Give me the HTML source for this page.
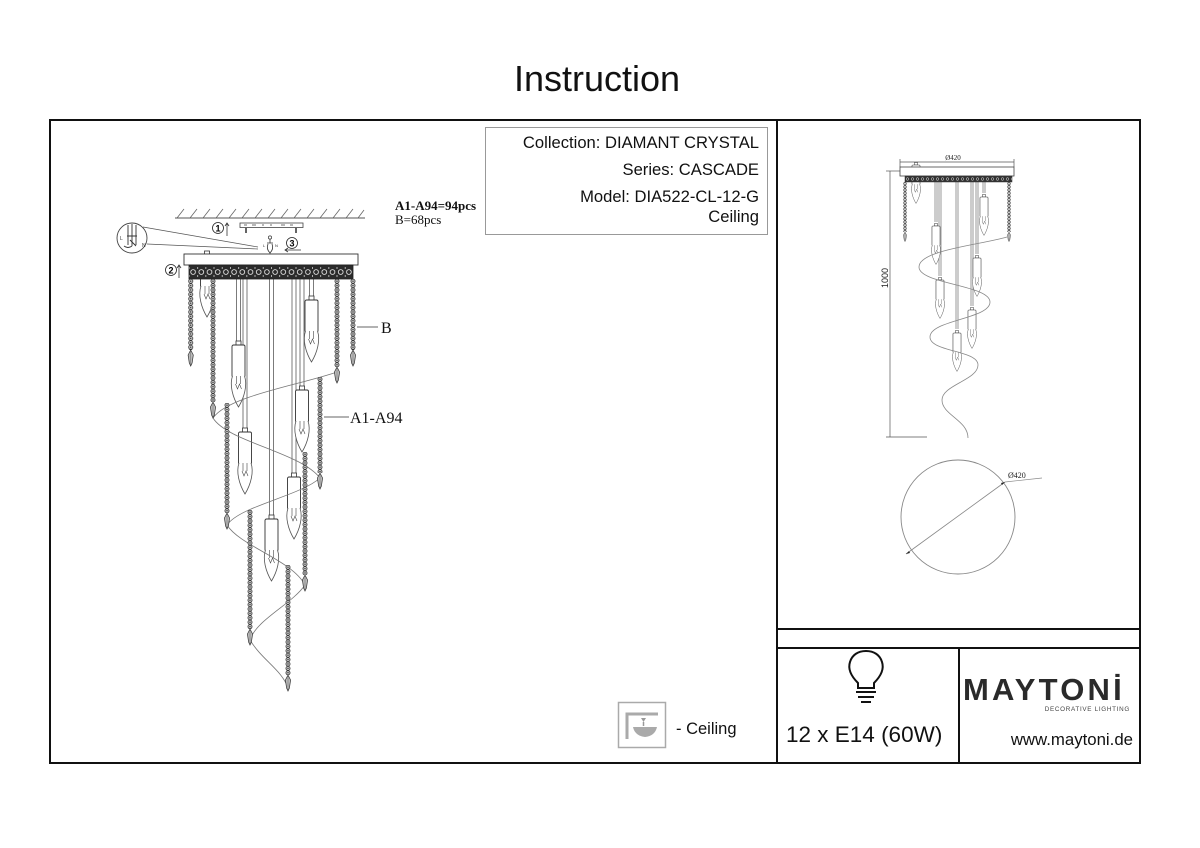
<!DOCTYPE html>
<html><head><meta charset="utf-8"><style>
html,body{margin:0;padding:0;background:#fff;}
svg{display:block;}
text{font-family:"Liberation Sans",Arial,sans-serif;}
.serif{font-family:"Liberation Serif","Times New Roman",serif;}
</style></head><body>
<svg width="1200" height="848" viewBox="0 0 1200 848" xmlns="http://www.w3.org/2000/svg">
<defs>
  <pattern id="bd" patternUnits="userSpaceOnUse" x="-3" y="0" width="6" height="4.4">
    <circle cx="3" cy="2.2" r="2.05" fill="#d4d4d4" stroke="#222" stroke-width="0.75"/>
    <circle cx="3" cy="2.2" r="0.7" fill="#222"/>
  </pattern>
  <pattern id="bds" patternUnits="userSpaceOnUse" x="-2" y="0" width="4" height="3.2">
    <circle cx="2" cy="1.6" r="1.35" fill="#d4d4d4" stroke="#333" stroke-width="0.6"/>
  </pattern>
  <pattern id="orn" patternUnits="userSpaceOnUse" x="189" y="265" width="8.2" height="14">
    <rect width="8.2" height="14" fill="#2b2b2b"/>
    <circle cx="4.1" cy="7" r="2.4" fill="none" stroke="#eee" stroke-width="0.8"/>
    <circle cx="0" cy="3" r="1" fill="#ddd"/>
    <circle cx="0" cy="11" r="1" fill="#ddd"/>
  </pattern>
  <pattern id="orns" patternUnits="userSpaceOnUse" x="905" y="176" width="5" height="6">
    <rect width="5" height="6" fill="#333"/>
    <circle cx="2.5" cy="3" r="1.3" fill="none" stroke="#ddd" stroke-width="0.5"/>
  </pattern>
  <g id="drop">
    <path d="M0,0 L2.6,5 L1.4,13 L0,16 L-1.4,13 L-2.6,5 Z" fill="#bbb" stroke="#333" stroke-width="0.7"/>
    <line x1="0" y1="1" x2="0" y2="15" stroke="#555" stroke-width="0.4"/>
  </g>
  <g id="lamp">
    <rect x="-2.5" y="-4" width="5" height="4" fill="#fff" stroke="#333" stroke-width="0.8"/>
    <rect x="-6.5" y="0" width="13" height="32" rx="1.5" fill="#fff" stroke="#333" stroke-width="0.9"/>
    <path d="M-6,31 C-9,40 -6,52 0,62 C6,52 9,40 6,31" fill="#fff" stroke="#555" stroke-width="0.8"/>
    <path d="M-2,31 L-2,39 M2,31 L2,39 M-3,39 L-1,44 L1,39 L3,44" stroke="#444" stroke-width="0.6" fill="none"/>
  </g>
</defs>

<!-- Title -->
<text x="597" y="91" font-size="36" text-anchor="middle" fill="#111">Instruction</text>

<!-- Frame -->
<rect x="50" y="120" width="1090" height="643" fill="none" stroke="#111" stroke-width="2"/>
<line x1="777" y1="120" x2="777" y2="763" stroke="#111" stroke-width="2"/>
<line x1="777" y1="629" x2="1140" y2="629" stroke="#111" stroke-width="2"/>
<line x1="777" y1="648" x2="1140" y2="648" stroke="#111" stroke-width="2"/>
<line x1="959" y1="648" x2="959" y2="764" stroke="#111" stroke-width="2"/>

<!-- Info box -->
<rect x="485.5" y="127.5" width="282" height="107" fill="none" stroke="#999" stroke-width="1"/>
<g font-size="16.6" text-anchor="end" fill="#111">
  <text x="759" y="148">Collection: DIAMANT CRYSTAL</text>
  <text x="759" y="175">Series: CASCADE</text>
  <text x="759" y="202">Model: DIA522-CL-12-G</text>
  <text x="759" y="222">Ceiling</text>
</g>

<!-- ===== Left main drawing ===== -->
<line x1="175" y1="218" x2="365" y2="218" stroke="#555" stroke-width="0.9"/>
<path d="M177,218 l7,-9 M190,218 l7,-9 M203,218 l7,-9 M216,218 l7,-9 M229,218 l7,-9 M242,218 l7,-9 M255,218 l7,-9 M268,218 l7,-9 M281,218 l7,-9 M294,218 l7,-9 M307,218 l7,-9 M320,218 l7,-9 M333,218 l7,-9 M346,218 l7,-9 M358,218 l6,-8" stroke="#666" stroke-width="0.8"/>
<rect x="240" y="223" width="63" height="4.5" fill="#fff" stroke="#444" stroke-width="0.8"/>
<path d="M244,225 h3 M252,225 h4 M262,225 h2 M270,225 h2 M281,225 h4 M290,225 h3" stroke="#444" stroke-width="0.8"/>
<path d="M246,228 v5 M296,228 v5" stroke="#222" stroke-width="1.4"/>
<circle cx="218" cy="228" r="5.5" fill="#fff" stroke="#222" stroke-width="0.8"/>
<text x="218" y="231.5" font-size="9" font-weight="bold" text-anchor="middle">1</text>
<path d="M227,236 V223 M225,226 l2,-3 l2,3" stroke="#333" stroke-width="0.8" fill="none"/>
<circle cx="292" cy="243" r="5.5" fill="#fff" stroke="#222" stroke-width="0.8"/>
<text x="292" y="246.5" font-size="9" font-weight="bold" text-anchor="middle">3</text>
<path d="M301,250 H285 M288,248 l-3,2 l3,2" stroke="#333" stroke-width="0.8" fill="none"/>
<circle cx="270" cy="237.5" r="1.6" fill="none" stroke="#333" stroke-width="0.7"/>
<path d="M270,239 v4 M267,243 h6 M268,244 q-2,5 2,9 q4,-4 2,-9 M270,253 v1.5" stroke="#333" stroke-width="0.8" fill="none"/>
<text x="263" y="247" font-size="4" fill="#333">L</text>
<text x="275" y="247" font-size="4" fill="#333">N</text>
<circle cx="132" cy="238" r="15" fill="#fff" stroke="#444" stroke-width="0.9"/>
<path d="M143,227 L258,247 M147,244 L258,249" stroke="#555" stroke-width="0.7" fill="none"/>
<path d="M128,225 v20 M132,224 v22 M136,225 v20 M127,236 h10 M130,240 l6,6 M124,246 q4,3 8,0" stroke="#333" stroke-width="0.9" fill="none"/>
<text x="120" y="240" font-size="5" fill="#333">L</text>
<text x="142" y="247" font-size="5" fill="#333">N</text>
<circle cx="171" cy="270" r="5.5" fill="#fff" stroke="#222" stroke-width="0.8"/>
<text x="171" y="273.5" font-size="9" font-weight="bold" text-anchor="middle">2</text>
<path d="M179,278 V265 M177,268 l2,-3 l2,3" stroke="#333" stroke-width="0.8" fill="none"/>

<g stroke="#444" stroke-width="0.7">
  <path d="M236.5,279 V341 M240.5,279 V341"/>
  <path d="M309.5,279 V296 M313.5,279 V296"/>
  <path d="M243,279 V428 M247,279 V428"/>
  <path d="M300,279 V386 M304,279 V386"/>
  <path d="M292,279 V473 M296,279 V473"/>
  <path d="M269.5,279 V515 M273.5,279 V515"/>
</g>
<use href="#lamp" x="207" y="255"/>
<use href="#lamp" x="238.5" y="345"/>
<use href="#lamp" x="311.5" y="300"/>
<use href="#lamp" x="302" y="390"/>
<use href="#lamp" x="245" y="432"/>
<use href="#lamp" x="294" y="477"/>
<use href="#lamp" x="271.5" y="519"/>

<path d="M337,372 C300,385 228,396 213,418 C228,442 300,452 320,478 C300,496 240,506 227,525 C240,546 292,560 305,585 C292,604 256,620 250,640 C262,660 282,670 288,688" fill="none" stroke="#777" stroke-width="0.8"/>

<g transform="translate(190.7,279)"><rect x="-3" y="0" width="6" height="71" fill="url(#bd)"/></g>
<g transform="translate(213,279)"><rect x="-3" y="0" width="6" height="123" fill="url(#bd)"/></g>
<g transform="translate(337,279)"><rect x="-3" y="0" width="6" height="88" fill="url(#bd)"/></g>
<g transform="translate(353,279)"><rect x="-3" y="0" width="6" height="71" fill="url(#bd)"/></g>
<g transform="translate(320,377)"><rect x="-3" y="0" width="6" height="96" fill="url(#bd)"/></g>
<g transform="translate(227,403)"><rect x="-3" y="0" width="6" height="110" fill="url(#bd)"/></g>
<g transform="translate(305,452)"><rect x="-3" y="0" width="6" height="123" fill="url(#bd)"/></g>
<g transform="translate(250,510)"><rect x="-3" y="0" width="6" height="119" fill="url(#bd)"/></g>
<g transform="translate(288,565)"><rect x="-3" y="0" width="6" height="110" fill="url(#bd)"/></g>
<use href="#drop" x="190.7" y="350"/>
<use href="#drop" x="213" y="402"/>
<use href="#drop" x="337" y="367"/>
<use href="#drop" x="353" y="350"/>
<use href="#drop" x="320" y="473"/>
<use href="#drop" x="227" y="513"/>
<use href="#drop" x="305" y="575"/>
<use href="#drop" x="250" y="629"/>
<use href="#drop" x="288" y="675"/>

<rect x="184" y="254" width="174" height="11" fill="#fff" stroke="#333" stroke-width="0.9"/>
<rect x="189" y="265" width="164" height="14" fill="url(#orn)" stroke="#222" stroke-width="0.8"/>

<text class="serif" x="395" y="210" font-size="13" font-weight="bold" fill="#111">A1-A94=94pcs</text>
<text class="serif" x="395" y="224" font-size="13" fill="#111">B=68pcs</text>
<line x1="357" y1="327" x2="378" y2="327" stroke="#333" stroke-width="0.8"/>
<text class="serif" x="381" y="333" font-size="16" fill="#111">B</text>
<line x1="324" y1="417" x2="349" y2="417" stroke="#333" stroke-width="0.8"/>
<text class="serif" x="350" y="423" font-size="16" fill="#111">A1-A94</text>

<rect x="618.5" y="702.5" width="47" height="45" fill="#fff" stroke="#aaa" stroke-width="1.5"/>
<path d="M627,739 V714 H658" fill="none" stroke="#aaa" stroke-width="3"/>
<path d="M641,718 h5 l-2.5,4 z" fill="#999"/>
<line x1="643.5" y1="722" x2="643.5" y2="726" stroke="#999" stroke-width="1.5"/>
<path d="M633,727 H657 Q655,736 645,737 Q635,736 633,727 Z" fill="#aaa"/>
<text x="676" y="734" font-size="16.5" fill="#111">- Ceiling</text>

<!-- ===== Right drawing ===== -->
<line x1="900" y1="162" x2="1014" y2="162" stroke="#555" stroke-width="0.7"/>
<path d="M900,159 v8 M1014,159 v8" stroke="#555" stroke-width="0.7"/>
<text class="serif" x="953" y="160" font-size="7" text-anchor="middle" fill="#222">Ø420</text>
<line x1="890" y1="171" x2="890" y2="437" stroke="#555" stroke-width="0.7"/>
<line x1="886" y1="171" x2="900" y2="171" stroke="#555" stroke-width="0.7"/>
<line x1="886" y1="437" x2="927" y2="437" stroke="#555" stroke-width="0.7"/>
<text x="890" y="278" font-size="9" text-anchor="middle" fill="#222" transform="rotate(-90 890 278) translate(0 -2)">1000</text>

<g stroke="#555" stroke-width="0.6">
  <path d="M935,182 V222 M937,182 V222"/>
  <path d="M939,182 V276 M941,182 V276"/>
  <path d="M956,182 V329 M958,182 V329"/>
  <path d="M971,182 V306 M973,182 V306"/>
  <path d="M976,182 V254 M978,182 V254"/>
  <path d="M983,182 V193 M985,182 V193"/>
</g>
<use href="#lamp" transform="translate(916,165) scale(0.62)"/>
<use href="#lamp" transform="translate(936,226) scale(0.62)"/>
<use href="#lamp" transform="translate(940,280) scale(0.62)"/>
<use href="#lamp" transform="translate(957,333) scale(0.62)"/>
<use href="#lamp" transform="translate(977,258) scale(0.62)"/>
<use href="#lamp" transform="translate(972,310) scale(0.62)"/>
<use href="#lamp" transform="translate(984,197) scale(0.62)"/>

<path d="M1007,237 C980,245 919,250 919,267 C919,284 990,285 990,302 C990,319 930,320 930,337 C930,352 978,350 978,365 C978,380 942,385 942,400 C942,415 968,420 968,438" fill="none" stroke="#888" stroke-width="0.8"/>

<g transform="translate(905,182)"><rect x="-2" y="0" width="4" height="50" fill="url(#bds)"/></g>
<g transform="translate(1009,182)"><rect x="-2" y="0" width="4" height="50" fill="url(#bds)"/></g>
<use href="#drop" transform="translate(905,232) scale(0.6)"/>
<use href="#drop" transform="translate(1009,232) scale(0.6)"/>

<rect x="900" y="167" width="114" height="9" fill="#fff" stroke="#444" stroke-width="0.8"/>
<rect x="905" y="176" width="107" height="6" fill="url(#orns)" stroke="#333" stroke-width="0.5"/>

<circle cx="958" cy="517" r="57" fill="none" stroke="#888" stroke-width="0.9"/>
<line x1="906" y1="554" x2="1005" y2="482" stroke="#888" stroke-width="0.8"/>
<line x1="1005" y1="482" x2="1042" y2="478" stroke="#888" stroke-width="0.7"/>
<path d="M906,554 l4,-1 l-1,-2 z M1005,482 l-4,1 l1,2 z" fill="#222"/>
<text class="serif" x="1008" y="478" font-size="8" fill="#222">Ø420</text>

<path d="M858,683 C850,675 848,668 850,662 C852,655 858,651 866,651 C874,651 880,655 882,662 C884,668 882,675 874,683 L874,688 L858,688 Z" fill="none" stroke="#111" stroke-width="2"/>
<path d="M856,692 H876 M858,697 H874 M861,702 H871" stroke="#111" stroke-width="2"/>
<text x="786" y="742" font-size="22.5" fill="#111">12 x E14 (60W)</text>

<text x="963" y="700" font-size="31" font-weight="bold" fill="#2a2a2a" letter-spacing="3.2">MAYTONİ</text>
<text x="1130" y="711" font-size="6.3" fill="#444" text-anchor="end" letter-spacing="0.7">DECORATIVE LIGHTING</text>
<text x="1133" y="745" font-size="16.8" fill="#111" text-anchor="end">www.maytoni.de</text>
</svg>
</body></html>
